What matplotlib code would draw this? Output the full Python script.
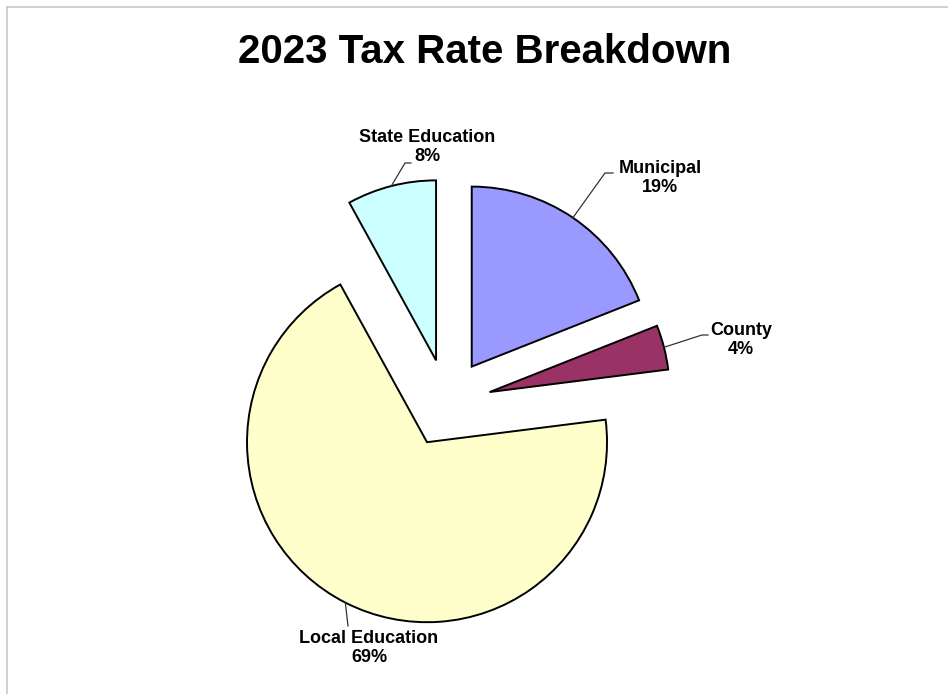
"""Exploded pie of the 2023 tax rate breakdown."""

import matplotlib

matplotlib.use("Agg")
import matplotlib.pyplot as plt
import numpy as np
from matplotlib.lines import Line2D

W, H = 948, 694

categories = ["Municipal", "County", "Local Education", "State Education"]
shares = [19, 4, 69, 8]
colors = ["#9999FF", "#993366", "#FFFFCC", "#CCFFFF"]

# label placement in image pixels (x, y from top) and the elbow of each leader
label_pos = {
    "Municipal": (660, 178),
    "County": (741, 340),
    "Local Education": (369, 648),
    "State Education": (427, 147),
}
elbow_pos = {
    "Municipal": [(605, 173), (613, 173)],
    "County": [(702, 335), (708, 335)],
    "Local Education": [(348, 626)],
    "State Education": [(405, 163), (411, 163)],
}

plt.rcParams["font.family"] = ["Liberation Sans", "DejaVu Sans"]

fig = plt.figure(figsize=(W / 100, H / 100), dpi=100)
ax = fig.add_axes([0, 0, 1, 1])

# axes units are pixels here, and pie's explode is in absolute units
radius = 180
offset = 44
wedges, _ = ax.pie(
    shares,
    colors=colors,
    startangle=90,
    counterclock=False,
    radius=radius,
    center=(447, H - 403),
    explode=[offset] * len(shares),
    wedgeprops=dict(edgecolor="black", linewidth=1.4),
)

ax.set_xlim(0, W)
ax.set_ylim(0, H)
ax.set_aspect("equal")
ax.axis("off")

for wedge, name, share in zip(wedges, categories, shares):
    mid = np.deg2rad((wedge.theta1 + wedge.theta2) / 2)
    cx, cy = wedge.center
    arc = (cx + wedge.r * np.cos(mid), cy + wedge.r * np.sin(mid))
    pts = [arc] + [(x, H - y) for x, y in elbow_pos[name]]
    xs, ys = zip(*pts)
    ax.plot(xs, ys, color="#333333", linewidth=0.9, zorder=3)
    lx, ly = label_pos[name]
    ax.text(lx, H - ly, f"{name}\n{share}%", ha="center", va="center",
            multialignment="center", fontsize=13, fontweight="bold",
            linespacing=1.15)

ax.text(485, H - 52, "2023 Tax Rate Breakdown", ha="center", va="center",
        fontsize=29, fontweight="bold")

# thin frame along top and left edges
fig.add_artist(Line2D([7 / W, 1], [1 - 7 / H, 1 - 7 / H], color="#c8c8c8",
                      linewidth=1.2, transform=fig.transFigure))
fig.add_artist(Line2D([7 / W, 7 / W], [0, 1 - 7 / H], color="#c8c8c8",
                      linewidth=1.2, transform=fig.transFigure))

fig.savefig("out.png", dpi=100, facecolor="white")
